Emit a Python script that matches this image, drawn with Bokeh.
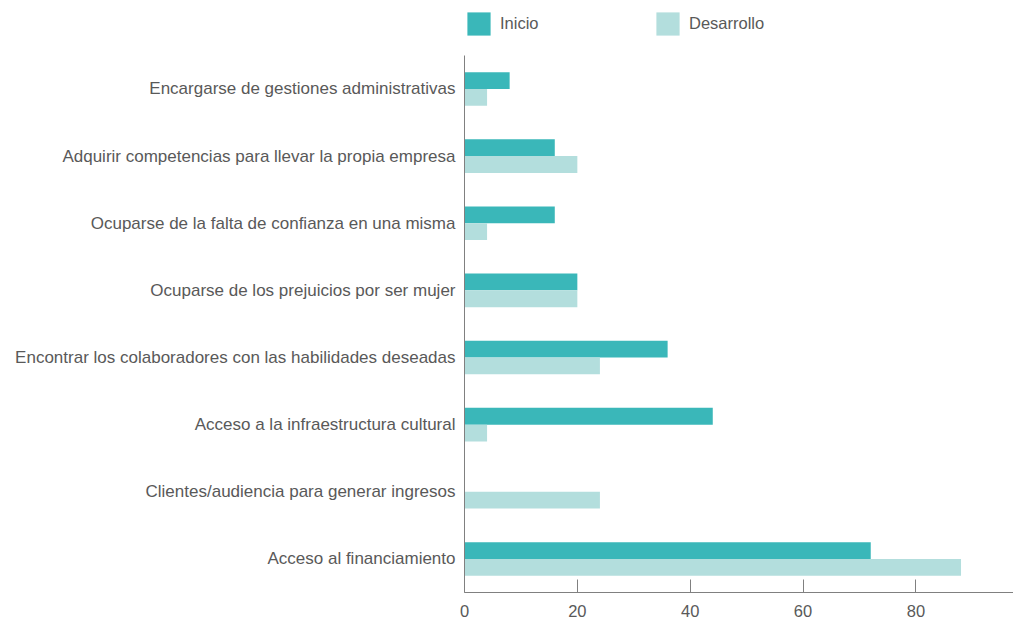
from bokeh.plotting import figure
from bokeh.models import Range1d, ColumnDataSource, Legend, LegendItem, FixedTicker
from bokeh.transform import dodge
from bokeh.embed import file_html
from bokeh.resources import INLINE

categories = [
    "Acceso al financiamiento",
    "Clientes/audiencia para generar ingresos",
    "Acceso a la infraestructura cultural",
    "Encontrar los colaboradores con las habilidades deseadas",
    "Ocuparse de los prejuicios por ser mujer",
    "Ocuparse de la falta de confianza en una misma",
    "Adquirir competencias para llevar la propia empresa",
    "Encargarse de gestiones administrativas",
]
inicio = [72, 0, 44, 36, 20, 16, 16, 8]
desarrollo = [88, 24, 4, 24, 20, 4, 20, 4]
x_ticks = [0, 20, 40, 60, 80]
series_names = ["Inicio", "Desarrollo"]

C_INI = "#3ab7b9"
C_DES = "#b3dedd"
TXT = "#595959"
AX = "#808080"
FONT = "Liberation Sans"
FS = "17px"

pos = list(range(len(categories)))
src = ColumnDataSource(dict(pos=pos, ini=inicio, des=desarrollo))

n = len(categories)
step = 67.14
extra_top = (592 - n * step) / step
p = figure(width=1013, height=620, output_backend="svg", toolbar_location=None,
           y_range=Range1d(-0.5, n - 0.5 + extra_top),
           x_range=Range1d(0, 97.3))
p.min_border_left = 464
p.min_border_right = 0
p.min_border_top = 0
p.min_border_bottom = 28
p.outline_line_color = None
p.xgrid.grid_line_color = None
p.ygrid.grid_line_color = None

r1 = p.hbar(y=dodge("pos", 0.125), right="ini", left=0, height=0.25,
            source=src, fill_color=C_INI, line_color=None)
r2 = p.hbar(y=dodge("pos", -0.125), right="des", left=0, height=0.25,
            source=src, fill_color=C_DES, line_color=None)

xa = p.xaxis[0]
xa.ticker = FixedTicker(ticks=x_ticks)
xa.major_tick_in = 13
xa.major_tick_out = 0
xa.minor_tick_line_color = None
xa.axis_line_color = AX
xa.major_tick_line_color = AX
xa.major_label_text_color = TXT
xa.major_label_text_font = FONT
xa.major_label_text_font_size = "16.5px"
xa.major_label_standoff = 12

ya = p.yaxis[0]
ya.ticker = FixedTicker(ticks=pos)
ya.major_label_overrides = {i: c for i, c in zip(pos, categories)}
ya.bounds = (-0.5, n - 0.5)
ya.major_tick_line_color = None
ya.minor_tick_line_color = None
ya.axis_line_color = AX
ya.major_label_text_color = TXT
ya.major_label_text_font = FONT
ya.major_label_text_font_size = FS
ya.major_label_standoff = 3

legend = Legend(items=[LegendItem(label=series_names[0], renderers=[r1]),
                       LegendItem(label=series_names[1], renderers=[r2])],
                orientation="horizontal", location=(0, 554),
                glyph_width=29, glyph_height=29, label_standoff=7,
                label_width=153, spacing=0, padding=0, margin=0,
                border_line_color=None, background_fill_alpha=0,
                label_text_font=FONT, label_text_font_size="16.5px",
                label_text_color=TXT)
p.add_layout(legend, "center")

open("out.html", "w").write(file_html(p, INLINE))
